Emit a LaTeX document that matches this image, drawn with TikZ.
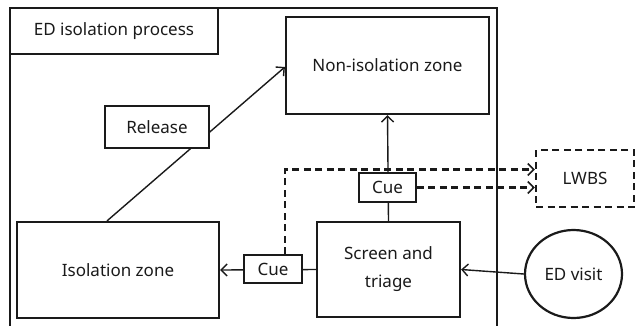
\documentclass[tikz,border=0pt]{standalone}
\usepackage{fontspec}
\setmainfont{Noto Sans}
\usetikzlibrary{arrows.meta,calc,shapes.geometric}
\definecolor{ink}{HTML}{1A1A1A}
\tikzset{
  box/.style={draw=ink, line width=2.2pt, rectangle, inner sep=0pt, fill=white, text=ink,
    font=\fontsize{17}{28}\selectfont, align=center},
  smallbox/.style={box, line width=1.8pt},
  thinbox/.style={box, line width=1.3pt},
  conn/.style={draw=ink, line width=1.4pt},
  arr/.style={conn, -{Straight Barb[length=6pt,width=12pt,line width=1.4pt]}},
  dasharr/.style={draw=ink, line width=2.3pt, dash pattern=on 7pt off 4.5pt,
    -{Straight Barb[length=6pt,width=12pt,line width=1.6pt]}},
}
\begin{document}
\begin{tikzpicture}[x=1pt,y=-1pt]
\useasboundingbox (0,0) rectangle (636,325);
\clip (0,0) rectangle (636,325);
% outer frame (open at the bottom)
\draw[draw=ink, line width=2.2pt] (10,330) -- (10,8) -- (497,8) -- (497,330);
\node[box, minimum width=208pt, minimum height=46pt] (title) at (114,31) {ED isolation process};
\node[box, minimum width=203pt, minimum height=97pt] (noniso) at (387.5,65.5) {Non-isolation zone};
\node[box, minimum width=202pt, minimum height=96pt] (iso) at (118,270) {Isolation zone};
\node[box, minimum width=143pt, minimum height=95pt] (screen) at (388.5,269.5) {Screen and\\triage};
\node[box, ellipse, minimum width=97pt, minimum height=88pt] (visit) at (573.5,274) {ED visit};
\node[box, dashed, dash pattern=on 7pt off 4.5pt, minimum width=98pt, minimum height=57pt] (lwbs) at (585,178.5) {LWBS};
% connectors
\draw[arr] ($(iso.north)+(-11,0)$) -- ($(noniso.west)+(0,1.5)$);
\draw[arr] (screen.north) -- (noniso.south);
\draw[arr] (screen.west) -- (iso.east);
\draw[arr] (visit.west) -- (screen.east);
% label boxes on top of connectors
\node[thinbox, minimum width=104pt, minimum height=42pt] (release) at (157,127) {Release};
\node[smallbox, minimum width=58pt, minimum height=28pt] (cueL) at (273,269) {Cue};
\node[smallbox, minimum width=57pt, minimum height=29pt] (cueU) at (387.5,187.5) {Cue};
% dashed connectors to LWBS
\draw[dasharr] ($(cueL.north)+(12,0)$) |- ($(lwbs.west)+(0,-9)$);
\draw[dasharr] (cueU.east) -- (cueU.east -| lwbs.west);
\end{tikzpicture}
\end{document}
